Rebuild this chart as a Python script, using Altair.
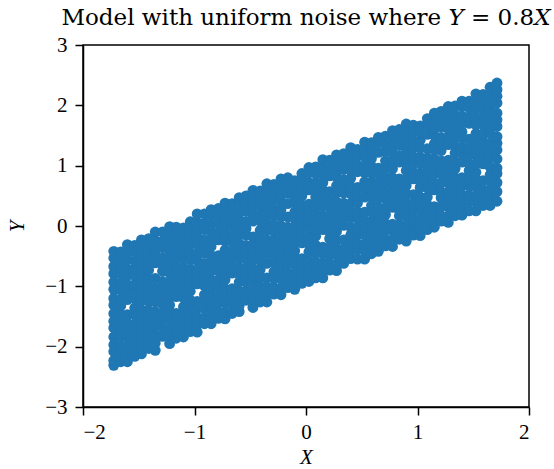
import altair as alt
import pandas as pd

# Column positions (X) of the point cloud, read left to right
col_x = [-1.724, -1.661, -1.602, -1.536, -1.476, -1.411, -1.352, -1.287, -1.223, -1.164,
         -1.099, -1.038, -0.976, -0.911, -0.851, -0.786, -0.726, -0.663, -0.599, -0.538,
         -0.476, -0.411, -0.351, -0.288, -0.224, -0.163, -0.101, -0.037, 0.026, 0.087,
         0.151, 0.212, 0.274, 0.338, 0.401, 0.462, 0.526, 0.587, 0.649, 0.713,
         0.776, 0.837, 0.899, 0.963, 1.024, 1.088, 1.151, 1.212, 1.276, 1.337,
         1.399, 1.463, 1.524, 1.588, 1.651, 1.713]

# Y values of the points found in each column
col_y = [
    [-2.31, -2.23, -2.08, -1.97, -1.84, -1.69, -1.58, -1.45, -1.31, -1.20, -1.05, -0.93, -0.79, -0.67, -0.53, -0.42],
    [-2.25, -2.10, -1.99, -1.84, -1.73, -1.58, -1.47, -1.32, -1.21, -1.06, -0.95, -0.80, -0.69, -0.54, -0.43],
    [-2.25, -2.11, -2.00, -1.85, -1.72, -1.61, -1.47, -1.22, -1.08, -0.97, -0.82, -0.71, -0.56, -0.45, -0.31],
    [-2.16, -2.01, -1.90, -1.75, -1.62, -1.47, -1.36, -1.21, -1.10, -0.97, -0.82, -0.71, -0.58, -0.43, -0.32],
    [-2.12, -2.02, -1.89, -1.78, -1.63, -1.50, -1.39, -1.24, -1.10, -0.99, -0.84, -0.74, -0.60, -0.48, -0.32, -0.23],
    [-2.03, -1.92, -1.77, -1.66, -1.51, -1.40, -1.25, -1.14, -0.99, -0.88, -0.73, -0.62, -0.47, -0.36, -0.21],
    [-2.06, -1.94, -1.81, -1.66, -1.55, -1.42, -1.26, -1.16, -1.03, -0.87, -0.61, -0.48, -0.35, -0.24, -0.10],
    [-1.83, -1.68, -1.53, -1.44, -1.29, -1.14, -1.03, -0.92, -0.75, -0.64, -0.53, -0.36, -0.25, -0.10],
    [-1.95, -1.81, -1.70, -1.55, -1.42, -1.31, -1.17, -1.03, -0.92, -0.78, -0.67, -0.52, -0.41, -0.26, -0.15, -0.01],
    [-1.86, -1.71, -1.60, -1.45, -1.17, -1.06, -0.91, -0.80, -0.67, -0.52, -0.41, -0.28, -0.13, -0.02],
    [-1.84, -1.73, -1.58, -1.47, -1.34, -1.19, -1.08, -0.95, -0.81, -0.70, -0.55, -0.43, -0.29, -0.17, -0.03],
    [-1.75, -1.60, -1.49, -1.34, -1.23, -1.08, -0.97, -0.82, -0.71, -0.56, -0.45, -0.30, -0.19, -0.04, 0.07],
    [-1.76, -1.64, -1.51, -1.36, -1.25, -0.96, -0.86, -0.73, -0.57, -0.46, -0.31, -0.18, -0.05, 0.06, 0.20],
    [-1.62, -1.53, -1.38, -1.23, -1.14, -0.99, -0.84, -0.73, -0.62, -0.45, -0.34, -0.23, -0.06, 0.05, 0.20],
    [-1.62, -1.52, -1.39, -1.28, -1.13, -1.00, -0.89, -0.74, -0.60, -0.49, -0.34, -0.24, -0.10, 0.02, 0.18, 0.27],
    [-1.53, -1.42, -1.27, -1.16, -1.01, -0.90, -0.75, -0.64, -0.49, -0.23, -0.12, 0.03, 0.14, 0.29],
    [-1.54, -1.43, -1.28, -1.17, -1.04, -0.89, -0.78, -0.65, -0.51, -0.40, -0.25, -0.13, 0.01, 0.13, 0.27, 0.38],
    [-1.45, -1.30, -1.19, -1.04, -0.78, -0.67, -0.52, -0.41, -0.26, -0.15, 0.00, 0.11, 0.26, 0.37],
    [-1.42, -1.32, -1.19, -1.08, -0.93, -0.80, -0.69, -0.54, -0.40, -0.29, -0.14, -0.04, 0.10, 0.22, 0.38, 0.47],
    [-1.23, -1.08, -0.93, -0.84, -0.69, -0.54, -0.43, -0.32, -0.15, -0.04, 0.07, 0.24, 0.35, 0.50],
    [-1.35, -1.21, -1.10, -0.95, -0.82, -0.71, -0.57, -0.43, -0.32, -0.18, 0.08, 0.19, 0.34, 0.45, 0.59],
    [-1.26, -1.11, -1.00, -0.85, -0.72, -0.57, -0.46, -0.31, -0.20, -0.07, 0.08, 0.19, 0.32, 0.47, 0.58],
    [-1.26, -1.14, -1.01, -0.86, -0.62, -0.46, -0.36, -0.23, -0.07, 0.04, 0.19, 0.32, 0.45, 0.56, 0.70],
    [-1.13, -1.02, -0.87, -0.76, -0.61, -0.50, -0.35, -0.24, -0.09, 0.02, 0.17, 0.28, 0.43, 0.54, 0.69],
    [-1.14, -1.03, -0.88, -0.77, -0.64, -0.49, -0.38, -0.25, -0.11, 0.00, 0.15, 0.27, 0.41, 0.53, 0.67, 0.78],
    [-1.02, -0.93, -0.78, -0.63, -0.54, -0.39, -0.24, -0.13, -0.02, 0.15, 0.37, 0.54, 0.65, 0.80],
    [-1.05, -0.91, -0.80, -0.65, -0.52, -0.41, -0.27, -0.13, -0.02, 0.12, 0.23, 0.38, 0.49, 0.64, 0.75],
    [-0.95, -0.80, -0.69, -0.54, -0.28, -0.17, -0.02, 0.09, 0.24, 0.35, 0.50, 0.61, 0.76, 0.87],
    [-0.92, -0.82, -0.69, -0.58, -0.43, -0.30, -0.19, -0.04, 0.10, 0.21, 0.36, 0.60, 0.72, 0.88, 0.97],
    [-0.86, -0.71, -0.60, -0.45, -0.32, -0.17, -0.06, 0.09, 0.20, 0.33, 0.48, 0.59, 0.72, 0.87, 0.98],
    [-0.86, -0.74, -0.61, -0.46, -0.35, -0.06, 0.04, 0.17, 0.33, 0.44, 0.59, 0.72, 0.85, 0.96, 1.10],
    [-0.73, -0.62, -0.47, -0.36, -0.21, -0.10, 0.05, 0.16, 0.31, 0.42, 0.57, 0.83, 0.94, 1.09],
    [-0.74, -0.63, -0.48, -0.37, -0.24, -0.09, 0.02, 0.15, 0.29, 0.40, 0.55, 0.67, 0.81, 0.93, 1.07, 1.18],
    [-0.62, -0.53, -0.38, -0.23, 0.01, 0.16, 0.27, 0.38, 0.55, 0.66, 0.77, 0.94, 1.05, 1.20],
    [-0.54, -0.41, -0.26, -0.15, -0.02, 0.14, 0.24, 0.37, 0.53, 0.64, 0.79, 0.92, 1.05, 1.16, 1.30],
    [-0.55, -0.40, -0.29, -0.14, -0.03, 0.12, 0.23, 0.38, 0.49, 0.64, 0.90, 1.01, 1.16, 1.27],
    [-0.55, -0.41, -0.30, -0.15, -0.02, 0.09, 0.23, 0.48, 0.62, 0.73, 0.88, 0.99, 1.14, 1.25, 1.39],
    [-0.46, -0.31, -0.20, -0.05, 0.08, 0.23, 0.34, 0.49, 0.60, 0.73, 0.88, 0.99, 1.12, 1.27, 1.38],
    [-0.42, -0.32, -0.19, -0.08, 0.07, 0.20, 0.31, 0.46, 0.60, 0.71, 0.86, 0.96, 1.22, 1.38, 1.47],
    [-0.33, -0.22, -0.07, 0.04, 0.19, 0.30, 0.45, 0.56, 0.71, 0.82, 0.97, 1.08, 1.23, 1.34, 1.49],
    [-0.34, -0.23, -0.08, 0.03, 0.31, 0.42, 0.55, 0.69, 0.80, 0.95, 1.07, 1.21, 1.33, 1.47, 1.58],
    [-0.22, -0.13, 0.02, 0.17, 0.26, 0.41, 0.56, 0.67, 0.78, 1.06, 1.17, 1.34, 1.45, 1.60],
    [-0.25, -0.11, 0.00, 0.15, 0.28, 0.39, 0.53, 0.67, 0.78, 0.92, 1.03, 1.18, 1.29, 1.44, 1.55, 1.69],
    [-0.15, 0.00, 0.11, 0.26, 0.37, 0.52, 0.78, 0.89, 1.04, 1.15, 1.30, 1.41, 1.56, 1.67],
    [-0.16, -0.04, 0.09, 0.24, 0.35, 0.48, 0.64, 0.74, 0.87, 1.03, 1.14, 1.29, 1.42, 1.55, 1.66],
    [-0.06, 0.09, 0.20, 0.35, 0.48, 0.63, 0.74, 0.89, 1.00, 1.13, 1.28, 1.52, 1.67, 1.78],
    [-0.02, 0.08, 0.21, 0.32, 0.60, 0.71, 0.86, 1.00, 1.11, 1.26, 1.36, 1.50, 1.62, 1.78, 1.87],
    [0.08, 0.17, 0.32, 0.47, 0.56, 0.71, 0.86, 0.97, 1.08, 1.25, 1.36, 1.47, 1.64, 1.75, 1.90],
    [0.06, 0.17, 0.32, 0.43, 0.56, 0.71, 0.82, 0.95, 1.09, 1.35, 1.47, 1.61, 1.73, 1.87, 1.98],
    [0.17, 0.28, 0.43, 0.54, 0.69, 0.80, 0.95, 1.06, 1.21, 1.32, 1.47, 1.58, 1.73, 1.84, 1.99],
    [0.18, 0.28, 0.41, 0.52, 0.67, 0.80, 1.06, 1.20, 1.31, 1.46, 1.56, 1.70, 1.82, 1.98, 2.07],
    [0.25, 0.40, 0.51, 0.66, 0.77, 0.92, 1.03, 1.18, 1.29, 1.44, 1.70, 1.81, 1.96, 2.07],
    [0.25, 0.39, 0.50, 0.65, 0.78, 0.89, 1.03, 1.17, 1.28, 1.42, 1.53, 1.68, 1.79, 1.94, 2.05, 2.19],
    [0.34, 0.49, 0.60, 0.75, 1.03, 1.14, 1.29, 1.40, 1.53, 1.68, 1.79, 1.92, 2.07, 2.18],
    [0.34, 0.46, 0.59, 0.74, 0.85, 0.98, 1.14, 1.24, 1.37, 1.53, 1.64, 1.79, 1.92, 2.05, 2.16, 2.30],
    [0.41, 0.57, 0.72, 0.87, 0.96, 1.11, 1.26, 1.37, 1.48, 1.65, 1.76, 1.87, 2.04, 2.15, 2.26, 2.37],
]

x_ticks = [-2, -1, 0, 1, 2]
y_ticks = [-3, -2, -1, 0, 1, 2, 3]
title_text = "Model with uniform noise where 𝑌 = 0.8𝑋"

rows = [{"X": x, "Y": y} for x, ys in zip(col_x, col_y) for y in ys]
df = pd.DataFrame(rows)

FONT = "Liberation Serif"
TITLE_FONT = "DejaVu Serif"

chart = (
    alt.Chart(df)
    .mark_circle(size=118, color="#1f77b4", opacity=1)
    .encode(
        x=alt.X("X:Q", scale=alt.Scale(domain=[-2, 2], nice=False, zero=False),
                axis=alt.Axis(values=x_ticks, title="X", labelPadding=6, titlePadding=4)),
        y=alt.Y("Y:Q", scale=alt.Scale(domain=[-3, 3], nice=False, zero=False),
                axis=alt.Axis(values=y_ticks, title="Y", labelPadding=8, titlePadding=17)),
    )
    .properties(
        width=446,
        height=362,
        title=alt.TitleParams(text=title_text, font=TITLE_FONT, fontSize=23, fontWeight="normal",
                              color="black", anchor="middle", offset=4),
        autosize=alt.AutoSizeParams(type="none"),
        padding={"left": 83, "top": 45, "right": 25, "bottom": 62},
    )
    .configure_view(stroke="black", strokeWidth=1.5)
    .configure_axis(
        domainColor="black", domainWidth=1.5, tickColor="black", tickWidth=1.5, tickSize=8,
        labelFont=FONT, labelFontSize=21, labelColor="black",
        titleFont=FONT, titleFontSize=21, titleFontStyle="italic", titleFontWeight="normal",
        titleColor="black", grid=False,
    )
)

chart.save("out.html", embed_options={"renderer": "svg", "actions": False})
